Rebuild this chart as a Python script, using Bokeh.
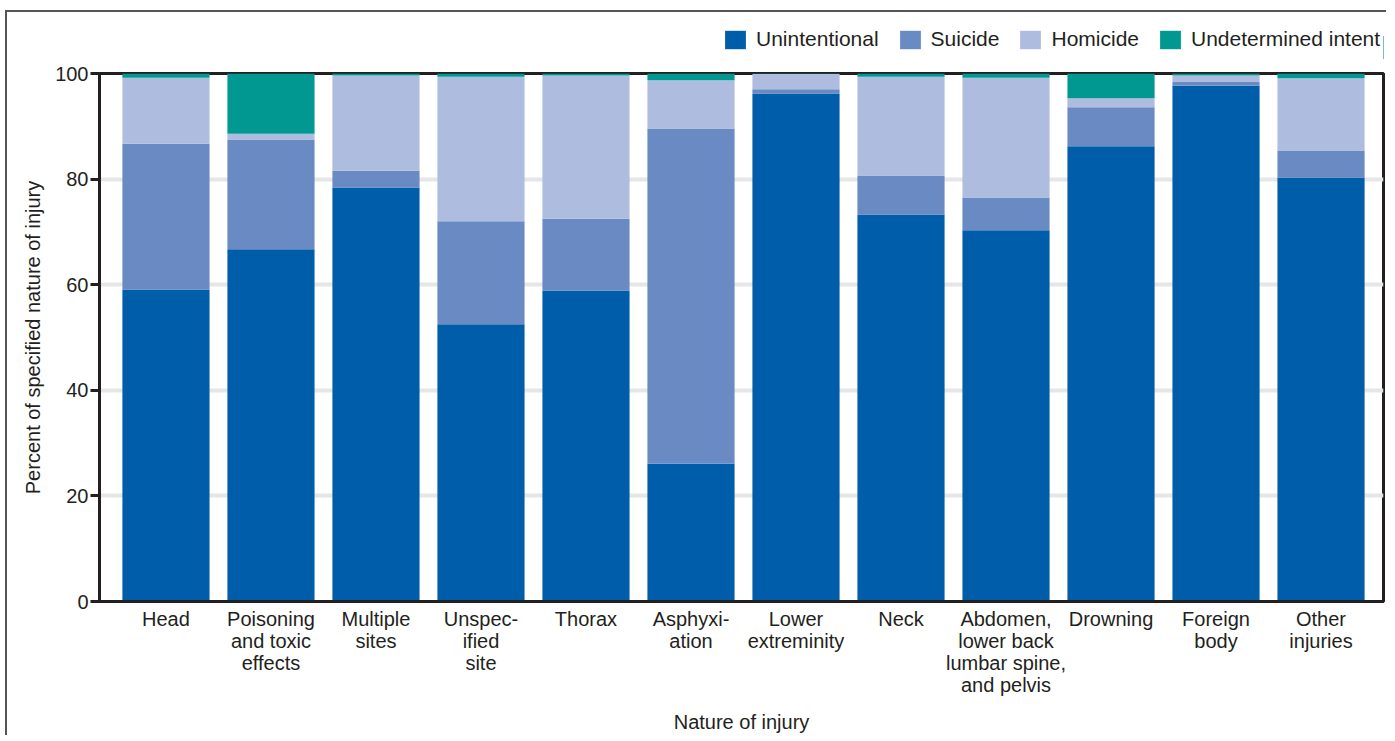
from bokeh.plotting import figure
from bokeh.layouts import column
from bokeh.models import Range1d, FixedTicker, Legend, LegendItem
from bokeh.embed import file_html
from bokeh.resources import INLINE

categories = ["Head", "Poisoning\nand toxic\neffects", "Multiple\nsites", "Unspec-\nified\nsite",
              "Thorax", "Asphyxi-\nation", "Lower\nextreminity", "Neck",
              "Abdomen,\nlower back\nlumbar spine,\nand pelvis", "Drowning", "Foreign\nbody", "Other\ninjuries"]
unintentional = [59.1, 66.7, 78.4, 52.5, 58.9, 26.1, 96.2, 73.3, 70.3, 86.2, 97.7, 80.3]
suicide = [27.6, 20.8, 3.2, 19.5, 13.6, 63.5, 0.8, 7.4, 6.2, 7.4, 0.8, 5.1]
homicide = [12.5, 1.1, 18.0, 27.4, 27.1, 9.1, 2.9, 18.7, 22.7, 1.7, 1.1, 13.7]
undetermined = [0.8, 11.4, 0.4, 0.6, 0.4, 1.3, 0.1, 0.6, 0.8, 4.7, 0.4, 0.9]
series_names = ["Unintentional", "Suicide", "Homicide", "Undetermined intent"]
y_ticks = [0, 20, 40, 60, 80, 100]

colors = ["#005DAA", "#6A8AC4", "#ADBCDF", "#009890"]
FONT = "Liberation Sans"
DARK = "#231f20"

x = list(range(len(categories)))
data = {"x": x, "u": unintentional, "s": suicide, "h": homicide, "d": undetermined}

# ---- legend strip (separate figure so the legend is not clipped) ----
lg = figure(width=1379, height=47, output_backend="svg", toolbar_location=None,
            x_axis_type=None, y_axis_type=None, min_border=0,
            x_range=Range1d(0, 1), y_range=Range1d(0, 1))
lg.outline_line_color = None
lg.xgrid.grid_line_color = None
lg.ygrid.grid_line_color = None
# swatch renderers, kept outside the visible range of the strip
dummy = [lg.vbar(x=[10], top=[0.5], width=0.5, color=c, line_width=0) for c in colors]
legend = Legend(items=[LegendItem(label=n, renderers=[r]) for n, r in zip(series_names, dummy)],
                orientation="horizontal", location=(623, 8),
                padding=0, margin=0, spacing=18, label_standoff=8,
                glyph_width=26, glyph_height=23,
                label_text_font=FONT, label_text_font_size="21px", label_text_color=DARK,
                border_line_color=None, background_fill_alpha=0)
lg.add_layout(legend, "center")

# ---- main chart ----
p = figure(width=1379, height=668, output_backend="svg", toolbar_location=None,
           x_range=Range1d(-0.633, 11.595), y_range=Range1d(0, 100),
           min_border_left=92, min_border_right=3, min_border_top=14, min_border_bottom=126)
p.frame_width = 1284
p.frame_height = 528

p.vbar_stack(["u", "s", "h", "d"], x="x", width=0.83, color=colors, source=data, line_width=0)

p.outline_line_color = DARK
p.outline_line_width = 3

p.xgrid.grid_line_color = None
p.ygrid.grid_line_color = "#e6e6e6"
p.ygrid.grid_line_width = 4
p.ygrid.ticker = FixedTicker(ticks=y_ticks)

p.yaxis.ticker = FixedTicker(ticks=y_ticks)
p.yaxis.minor_tick_line_color = None
p.yaxis.major_tick_out = 9
p.yaxis.major_tick_in = 0
p.yaxis.major_tick_line_width = 3
p.yaxis.major_tick_line_color = DARK
p.yaxis.axis_line_width = 3
p.yaxis.axis_line_color = DARK
p.yaxis.major_label_standoff = 2
p.yaxis.axis_label = "Percent of specified nature of injury"
p.yaxis.axis_label_standoff = 8

p.xaxis.ticker = FixedTicker(ticks=x)
p.xaxis.major_label_overrides = {i: c for i, c in zip(x, categories)}
p.xaxis.major_tick_line_color = None
p.xaxis.minor_tick_line_color = None
p.xaxis.major_tick_out = 0
p.xaxis.axis_line_width = 3
p.xaxis.axis_line_color = DARK
p.xaxis.major_label_standoff = 6
p.xaxis.major_label_text_line_height = 1.0
p.xaxis.axis_label = "Nature of injury"
p.xaxis.axis_label_standoff = 12

for ax in (p.xaxis, p.yaxis):
    ax.major_label_text_font = FONT
    ax.major_label_text_font_size = "20px"
    ax.major_label_text_color = DARK
    ax.axis_label_text_font = FONT
    ax.axis_label_text_font_size = "20px"
    ax.axis_label_text_font_style = "normal"
    ax.axis_label_text_color = DARK

layout = column(lg, p, spacing=0)
layout.styles = {"border-top": "2px solid #555", "border-left": "2px solid #555",
                 "margin-top": "10px", "margin-left": "5px"}

open("out.html", "w").write(file_html(layout, INLINE))
